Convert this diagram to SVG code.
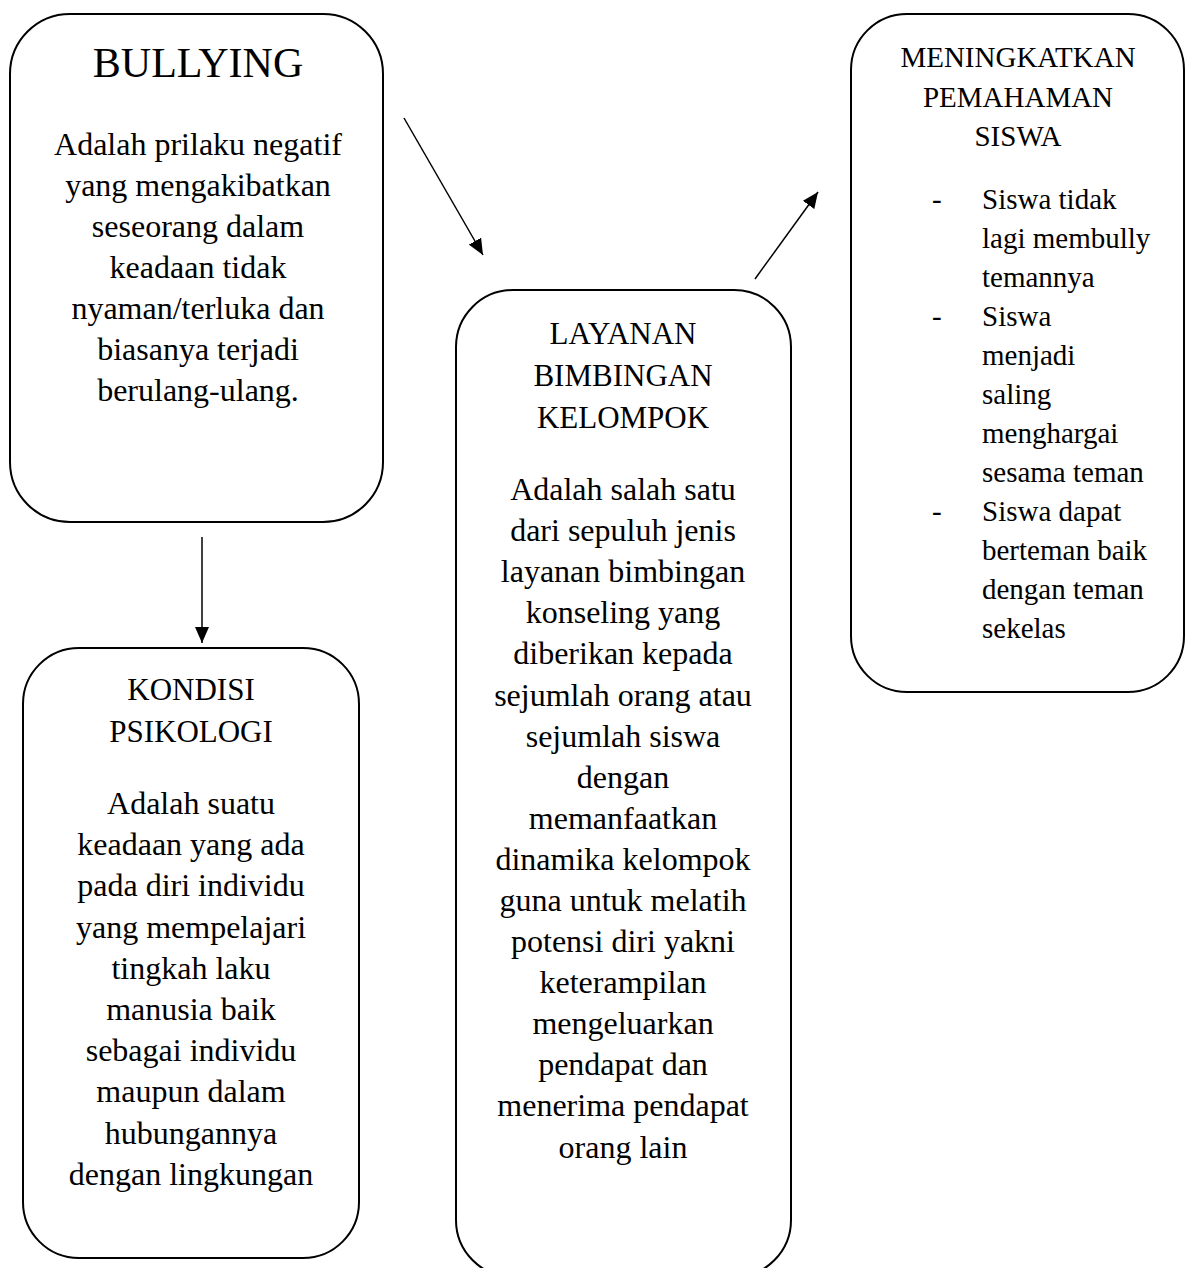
<svg xmlns="http://www.w3.org/2000/svg" width="1186" height="1268" viewBox="0 0 1186 1268">
<style>
.box{fill:#fff;stroke:#000;stroke-width:2}
.t{font-family:"Liberation Serif","Times New Roman",serif;fill:#000;text-anchor:middle}
.b{font-size:32px}
.m{font-size:31px}
.r{font-size:29px}
.l{text-anchor:start}
.con{stroke:#000;stroke-width:1.5;fill:none;marker-end:url(#ah)}
</style>
<defs>
<marker id="ah" markerUnits="userSpaceOnUse" viewBox="0 0 16 14" refX="16" refY="7" markerWidth="16" markerHeight="14" orient="auto">
<path d="M0,0 L16,7 L0,14 z" fill="#000"/>
</marker>
</defs>
<rect width="1186" height="1268" fill="#fff"/>
<g id="bullying">
<rect class="box" x="10" y="14" width="373" height="508" rx="60" ry="60"/>
<text class="t" x="198" y="77" font-size="42">BULLYING</text>
<text class="t b" x="198" y="155">Adalah prilaku negatif</text>
<text class="t b" x="198" y="196">yang mengakibatkan</text>
<text class="t b" x="198" y="237">seseorang dalam</text>
<text class="t b" x="198" y="278">keadaan tidak</text>
<text class="t b" x="198" y="319">nyaman/terluka dan</text>
<text class="t b" x="198" y="360">biasanya terjadi</text>
<text class="t b" x="198" y="401">berulang-ulang.</text>
</g>
<g id="kondisi">
<rect class="box" x="23" y="648" width="336" height="610" rx="56" ry="56"/>
<text class="t m" x="191" y="700">KONDISI</text>
<text class="t m" x="191" y="742">PSIKOLOGI</text>
<text class="t b" x="191" y="814">Adalah suatu</text>
<text class="t b" x="191" y="855">keadaan yang ada</text>
<text class="t b" x="191" y="896">pada diri individu</text>
<text class="t b" x="191" y="938">yang mempelajari</text>
<text class="t b" x="191" y="979">tingkah laku</text>
<text class="t b" x="191" y="1020">manusia baik</text>
<text class="t b" x="191" y="1061">sebagai individu</text>
<text class="t b" x="191" y="1102">maupun dalam</text>
<text class="t b" x="191" y="1144">hubungannya</text>
<text class="t b" x="191" y="1185">dengan lingkungan</text>
</g>
<g id="layanan">
<rect class="box" x="456" y="290" width="335" height="987" rx="57" ry="57"/>
<text class="t m" x="623" y="344">LAYANAN</text>
<text class="t m" x="623" y="386">BIMBINGAN</text>
<text class="t m" x="623" y="428">KELOMPOK</text>
<text class="t b" x="623" y="500">Adalah salah satu</text>
<text class="t b" x="623" y="541">dari sepuluh jenis</text>
<text class="t b" x="623" y="582">layanan bimbingan</text>
<text class="t b" x="623" y="623">konseling yang</text>
<text class="t b" x="623" y="664">diberikan kepada</text>
<text class="t b" x="623" y="706">sejumlah orang atau</text>
<text class="t b" x="623" y="747">sejumlah siswa</text>
<text class="t b" x="623" y="788">dengan</text>
<text class="t b" x="623" y="829">memanfaatkan</text>
<text class="t b" x="623" y="870">dinamika kelompok</text>
<text class="t b" x="623" y="911">guna untuk melatih</text>
<text class="t b" x="623" y="952">potensi diri yakni</text>
<text class="t b" x="623" y="993">keterampilan</text>
<text class="t b" x="623" y="1034">mengeluarkan</text>
<text class="t b" x="623" y="1075">pendapat dan</text>
<text class="t b" x="623" y="1116">menerima pendapat</text>
<text class="t b" x="623" y="1158">orang lain</text>
</g>
<g id="meningkatkan">
<rect class="box" x="851" y="14" width="333" height="678" rx="56" ry="56"/>
<text class="t r" x="1018" y="67">MENINGKATKAN</text>
<text class="t r" x="1018" y="107">PEMAHAMAN</text>
<text class="t r" x="1018" y="146">SISWA</text>
<text class="t r l" x="932" y="209">-</text>
<text class="t r l" x="982" y="209">Siswa tidak</text>
<text class="t r l" x="982" y="248">lagi membully</text>
<text class="t r l" x="982" y="287">temannya</text>
<text class="t r l" x="932" y="326">-</text>
<text class="t r l" x="982" y="326">Siswa</text>
<text class="t r l" x="982" y="365">menjadi</text>
<text class="t r l" x="982" y="404">saling</text>
<text class="t r l" x="982" y="443">menghargai</text>
<text class="t r l" x="982" y="482">sesama teman</text>
<text class="t r l" x="932" y="521">-</text>
<text class="t r l" x="982" y="521">Siswa dapat</text>
<text class="t r l" x="982" y="560">berteman baik</text>
<text class="t r l" x="982" y="599">dengan teman</text>
<text class="t r l" x="982" y="638">sekelas</text>
</g>
<g id="connectors">
<line class="con" x1="202" y1="537" x2="202" y2="643"/>
<line class="con" x1="404" y1="118" x2="483" y2="255"/>
<line class="con" x1="755" y1="279" x2="818" y2="192"/>
</g>
</svg>
